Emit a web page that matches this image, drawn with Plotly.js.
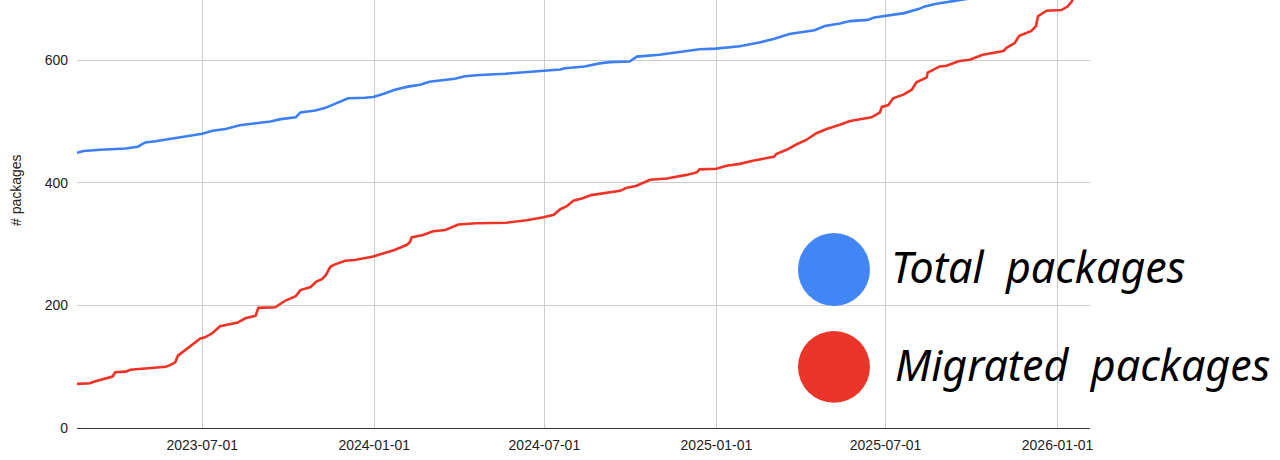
<!DOCTYPE html>
<html>
<head>
<meta charset="utf-8">
<script src="https://cdn.plot.ly/plotly-3.0.1.min.js"></script>
<style>
  html, body { margin: 0; padding: 0; background: #ffffff; }
  #chart { width: 1280px; height: 460px; }
</style>
</head>
<body>
<div id="chart"></div>
<script>
// ---- Data ----
var totalDates = [
  '2023-02-17','2023-02-24','2023-03-14','2023-03-25','2023-04-10','2023-04-23','2023-05-01','2023-05-12',
  '2023-05-28','2023-06-08','2023-06-18','2023-07-01','2023-07-12','2023-07-26','2023-08-10','2023-08-27',
  '2023-09-12','2023-09-23','2023-10-09','2023-10-14','2023-10-30','2023-11-09','2023-11-20','2023-12-04',
  '2023-12-22','2023-12-31','2024-01-12','2024-01-23','2024-02-06','2024-02-19','2024-02-29','2024-03-11',
  '2024-03-27','2024-04-07','2024-04-23','2024-05-20','2024-06-05','2024-07-01','2024-07-18','2024-07-23',
  '2024-08-13','2024-08-29','2024-09-09','2024-09-30','2024-10-08','2024-11-01','2024-11-23','2024-12-14',
  '2024-12-31','2025-01-26','2025-02-16','2025-03-04','2025-03-20','2025-04-05','2025-04-16','2025-04-27',
  '2025-05-13','2025-05-24','2025-06-12','2025-06-19','2025-07-01','2025-07-21','2025-08-06','2025-08-12',
  '2025-08-23','2025-09-08','2025-09-18','2025-10-04','2025-11-01','2025-12-01','2026-01-17'
];
var totalValues = [
  449, 452, 454, 455, 456, 459, 466, 468,
  472, 474, 477, 480, 485, 488, 494, 497,
  500, 504, 507, 515, 518, 522, 529, 538,
  539, 540, 546, 552, 557, 560, 565, 567,
  570, 574, 576, 578, 580, 583, 585, 587,
  590, 595, 597, 598, 606, 609, 613, 618,
  619, 623, 629, 635, 643, 646, 649, 656,
  660, 664, 666, 670, 673, 677, 684, 688,
  692, 696, 698, 702, 708, 714, 720
];

var migratedDates = [
  '2023-02-17','2023-03-03','2023-03-06','2023-03-14','2023-03-22','2023-03-27','2023-03-30','2023-04-10',
  '2023-04-15','2023-05-01','2023-05-12','2023-05-23','2023-05-28','2023-06-02','2023-06-05','2023-06-13',
  '2023-06-20','2023-06-29','2023-07-04','2023-07-12','2023-07-20','2023-08-08','2023-08-16','2023-08-27',
  '2023-08-30','2023-09-17','2023-09-28','2023-10-09','2023-10-14','2023-10-25','2023-10-31','2023-11-06',
  '2023-11-10','2023-11-15','2023-11-20','2023-12-01','2023-12-11','2023-12-31','2024-01-11','2024-01-22',
  '2024-02-05','2024-02-08','2024-02-10','2024-02-22','2024-03-04','2024-03-17','2024-03-31','2024-04-19',
  '2024-05-21','2024-06-12','2024-06-30','2024-07-11','2024-07-18','2024-07-25','2024-08-01','2024-08-11',
  '2024-08-20','2024-09-05','2024-09-20','2024-09-27','2024-10-07','2024-10-22','2024-11-09','2024-11-30',
  '2024-12-11','2024-12-14','2025-01-01','2025-01-12','2025-01-26','2025-02-09','2025-02-23','2025-03-04',
  '2025-03-06','2025-03-17','2025-03-28','2025-04-07','2025-04-18','2025-04-29','2025-05-13','2025-05-24',
  '2025-06-16','2025-06-25','2025-06-27','2025-07-04','2025-07-09','2025-07-20','2025-07-29','2025-08-03',
  '2025-08-14','2025-08-15','2025-08-28','2025-09-04','2025-09-18','2025-09-29','2025-10-13','2025-11-04',
  '2025-11-07','2025-11-16','2025-11-21','2025-11-29','2025-12-04','2025-12-09','2025-12-11','2025-12-20',
  '2026-01-05','2026-01-12','2026-01-16','2026-01-19'
];
var migratedValues = [
  72, 73, 75, 78, 82, 84, 91, 92,
  95, 97, 99, 100, 103, 107, 118, 127,
  136, 146, 148, 155, 166, 172, 179, 183,
  196, 197, 208, 215, 225, 230, 239, 243,
  249, 263, 267, 273, 274, 280, 285, 290,
  299, 303, 311, 315, 321, 323, 332, 334,
  335, 339, 344, 348, 357, 362, 371, 375,
  380, 383, 387, 392, 395, 405, 407, 413,
  417, 422, 423, 428, 431, 436, 441, 443,
  447, 454, 463, 470, 481, 488, 495, 501,
  507, 515, 524, 527, 538, 544, 552, 564,
  572, 580, 590, 591, 599, 601, 609, 615,
  620, 628, 640, 645, 648, 656, 672, 681,
  682, 688, 696, 705
];

var tickDates = ['2023-07-01','2024-01-01','2024-07-01','2025-01-01','2025-07-01','2026-01-01'];
var tickLabels = ['2023-07-01','2024-01-01','2024-07-01','2025-01-01','2025-07-01','2026-01-01'];
var yTicks = [0, 200, 400, 600];
var seriesNames = ['Total  packages', 'Migrated  packages'];
var yTitle = '# packages';

// ---- Chart ----
var blueLine = '#3b7ff2', redLine = '#ee3226';
var blueDot = '#4285f4', redDot = '#e9352a';

var traces = [
  { x: totalDates, y: totalValues, type: 'scatter', mode: 'lines',
    line: { color: blueLine, width: 2.6, shape: 'linear' }, name: seriesNames[0], hoverinfo: 'x+y' },
  { x: migratedDates, y: migratedValues, type: 'scatter', mode: 'lines',
    line: { color: redLine, width: 2.6, shape: 'linear' }, name: seriesNames[1], hoverinfo: 'x+y' }
];

var legendFont = { family: 'Noto Sans, DejaVu Sans, sans-serif', size: 43, color: '#000000', style: 'italic' };

var layout = {
  width: 1280, height: 460,
  margin: { l: 77, r: 190, t: 0, b: 32, pad: 0 },
  paper_bgcolor: '#ffffff', plot_bgcolor: '#ffffff',
  showlegend: false,
  font: { family: 'Liberation Sans, Arial, sans-serif', size: 14, color: '#222222' },
  xaxis: {
    type: 'date',
    range: ['2023-02-17', '2026-02-04 16:00'],
    tickvals: tickDates, ticktext: tickLabels,
    showgrid: true, gridcolor: '#cccccc', gridwidth: 1,
    showline: true, linecolor: '#333333', linewidth: 1.3,
    zeroline: false, ticks: '', ticklabelstandoff: 4,
    tickfont: { size: 14, color: '#222222' }
  },
  yaxis: {
    range: [0, 698.4],
    tickvals: yTicks,
    showgrid: true, gridcolor: '#cccccc', gridwidth: 1,
    showline: false, zeroline: false, ticks: '', ticklabelstandoff: 8,
    tickfont: { size: 14, color: '#222222' }
  },
  shapes: [
    { type: 'circle', xref: 'paper', yref: 'paper', x0: 0.7117, x1: 0.7828, y0: 0.2850, y1: 0.4556,
      fillcolor: blueDot, line: { width: 0 }, layer: 'above' },
    { type: 'circle', xref: 'paper', yref: 'paper', x0: 0.7117, x1: 0.7828, y0: 0.0591, y1: 0.2266,
      fillcolor: redDot, line: { width: 0 }, layer: 'above' }
  ],
  annotations: [
    { text: yTitle, xref: 'paper', yref: 'paper', x: -0.0602, y: 0.556, textangle: -90,
      showarrow: false, xanchor: 'center', yanchor: 'middle',
      font: { family: 'Liberation Sans, Arial, sans-serif', size: 14, color: '#222222' } },
    { text: seriesNames[0], xref: 'paper', yref: 'paper', x: (889 - 77) / 1013, y: (428 - 266) / 428,
      showarrow: false, xanchor: 'left', yanchor: 'middle', font: legendFont },
    { text: seriesNames[1], xref: 'paper', yref: 'paper', x: (893 - 77) / 1013, y: (428 - 364) / 428,
      showarrow: false, xanchor: 'left', yanchor: 'middle', font: legendFont }
  ]
};

Plotly.newPlot('chart', traces, layout, { displayModeBar: false, staticPlot: true });
</script>
</body>
</html>
